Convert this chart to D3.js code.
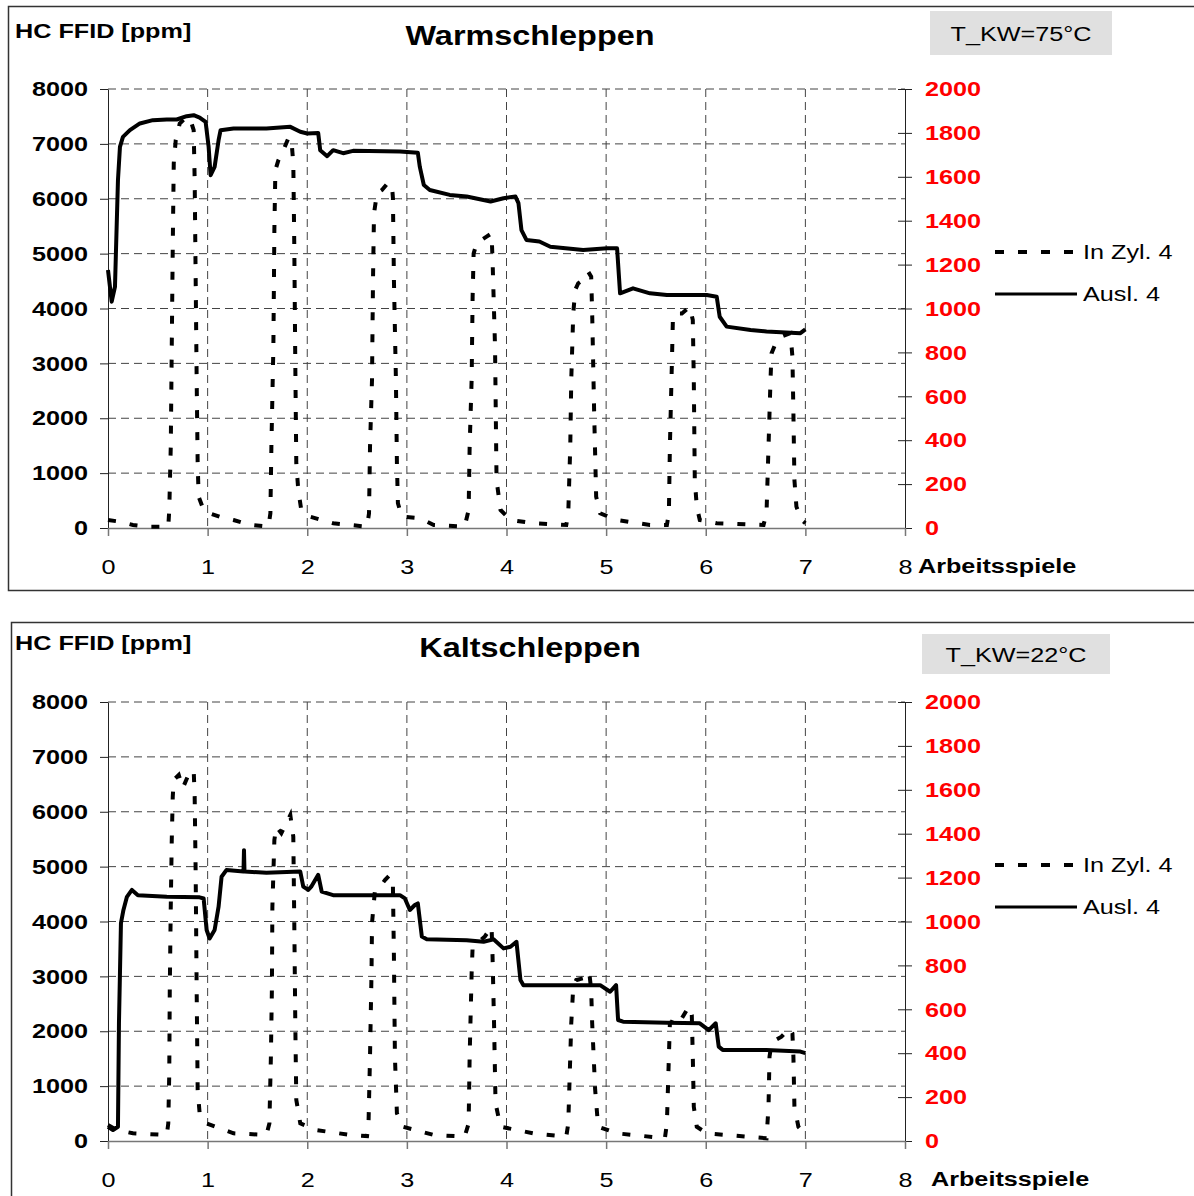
<!DOCTYPE html>
<html>
<head>
<meta charset="utf-8">
<script src="https://cdn.jsdelivr.net/npm/d3@7"></script>
<style>
  body { margin: 0; background: #fff; }
  svg text { font-family: "Liberation Sans", Arial, sans-serif; }
</style>
</head>
<body>
<svg id="chart" width="1194" height="1196"></svg>
<script>
// ---- data ----
const xTicks = [0, 1, 2, 3, 4, 5, 6, 7, 8];
const yTicksLeft = [0, 1000, 2000, 3000, 4000, 5000, 6000, 7000, 8000];
const yTicksRight = [0, 200, 400, 600, 800, 1000, 1200, 1400, 1600, 1800, 2000];
const seriesNames = ["In Zyl. 4", "Ausl. 4"];
const panelTitles = ["Warmschleppen", "Kaltschleppen"];
const panelTemps = ["T_KW=75°C", "T_KW=22°C"];

// [Arbeitsspiele, ppm]
const warmAusl = [[0,4700],[0.037,4124],[0.07,4397],[0.10,6340],[0.12,6946],[0.15,7128],[0.22,7250],[0.32,7372],[0.45,7432],[0.59,7444],[0.69,7444],[0.79,7505],[0.86,7523],[0.92,7480],[0.98,7400],[1.01,6946],[1.03,6430],[1.07,6580],[1.11,7067],[1.13,7250],[1.26,7280],[1.59,7280],[1.83,7310],[1.93,7220],[2.0,7190],[2.11,7200],[2.13,6885],[2.20,6776],[2.26,6885],[2.36,6830],[2.46,6873],[2.93,6860],[3.11,6840],[3.13,6580],[3.17,6250],[3.23,6160],[3.43,6070],[3.60,6040],[3.84,5950],[3.97,6010],[4.09,6040],[4.12,5920],[4.15,5430],[4.20,5250],[4.33,5220],[4.44,5125],[4.77,5065],[5.01,5097],[5.11,5097],[5.14,4277],[5.27,4368],[5.44,4277],[5.61,4245],[6.01,4245],[6.11,4215],[6.14,3850],[6.21,3670],[6.45,3610],[6.61,3580],[6.95,3550],[7.0,3620]];

const warmInZyl = [[0,146],[0.12,115],[0.25,55],[0.39,24],[0.605,24],[0.615,328],[0.63,1480],[0.64,3300],[0.65,5125],[0.66,6645],[0.68,7070],[0.72,7372],[0.77,7460],[0.82,7480],[0.86,7250],[0.87,6340],[0.88,4520],[0.89,2700],[0.90,1180],[0.91,570],[0.96,328],[1.02,268],[1.12,206],[1.26,146],[1.43,55],[1.61,24],[1.63,268],[1.64,1480],[1.66,3300],[1.67,5430],[1.68,6520],[1.71,6700],[1.76,6885],[1.81,7100],[1.84,7100],[1.86,6645],[1.87,5125],[1.88,3000],[1.89,1180],[1.91,690],[1.94,328],[2.03,206],[2.26,86],[2.60,24],[2.62,268],[2.63,1480],[2.65,2700],[2.66,4520],[2.67,5730],[2.70,6100],[2.75,6160],[2.81,6290],[2.85,6250],[2.86,6010],[2.87,4520],[2.89,2700],[2.90,1180],[2.91,450],[2.95,206],[3.13,177],[3.27,55],[3.58,24],[3.62,328],[3.63,1480],[3.65,2700],[3.66,4215],[3.67,5000],[3.70,5190],[3.75,5250],[3.80,5310],[3.85,5370],[3.86,4885],[3.885,3300],[3.90,875],[3.94,328],[4.04,146],[4.27,86],[4.60,55],[4.62,268],[4.64,1480],[4.65,2700],[4.67,3910],[4.69,4340],[4.72,4460],[4.77,4520],[4.82,4670],[4.85,4580],[4.86,3910],[4.88,2090],[4.90,570],[4.94,268],[5.11,146],[5.44,55],[5.61,55],[5.63,268],[5.64,1480],[5.66,3000],[5.67,3790],[5.69,3910],[5.76,3910],[5.84,4030],[5.87,3790],[5.88,2700],[5.89,875],[5.91,390],[5.94,146],[6.11,86],[6.58,55],[6.61,268],[6.63,1480],[6.64,2090],[6.65,2700],[6.66,3180],[6.70,3360],[6.76,3490],[6.85,3550],[6.87,3120],[6.88,2090],[6.89,875],[6.91,390],[6.96,146],[7.0,86]];

const kaltAusl = [[0,260],[0.05,200],[0.10,260],[0.11,2145],[0.13,3970],[0.155,4210],[0.19,4450],[0.24,4575],[0.30,4480],[0.59,4450],[0.92,4440],[0.96,4420],[0.99,3845],[1.02,3690],[1.07,3845],[1.11,4270],[1.14,4815],[1.19,4940],[1.36,4910],[1.365,5300],[1.37,4910],[1.59,4890],[1.93,4910],[1.96,4635],[2.01,4575],[2.04,4635],[2.11,4850],[2.145,4545],[2.26,4480],[2.93,4480],[2.98,4420],[3.03,4210],[3.08,4300],[3.11,4330],[3.15,3725],[3.20,3675],[3.60,3660],[3.77,3630],[3.87,3675],[3.97,3510],[4.04,3540],[4.10,3630],[4.14,2935],[4.17,2840],[4.60,2840],[4.94,2840],[5.04,2720],[5.10,2840],[5.12,2205],[5.17,2175],[5.61,2155],[5.94,2145],[6.03,2020],[6.10,2145],[6.13,1720],[6.17,1660],[6.61,1660],[6.95,1630],[7.0,1600]];

const kaltInZyl = [[0,290],[0.09,200],[0.25,140],[0.59,110],[0.605,320],[0.615,1235],[0.62,2750],[0.63,4270],[0.64,5485],[0.65,6275],[0.66,6580],[0.71,6670],[0.75,6430],[0.80,6640],[0.86,6760],[0.87,6275],[0.88,4880],[0.89,2750],[0.90,930],[0.92,505],[0.99,320],[1.26,140],[1.59,110],[1.62,320],[1.635,1535],[1.645,2750],[1.65,4270],[1.67,5485],[1.69,5730],[1.74,5610],[1.79,5790],[1.83,5940],[1.86,5545],[1.87,3970],[1.88,2145],[1.89,750],[1.93,320],[2.09,200],[2.43,110],[2.60,90],[2.615,320],[2.63,1535],[2.645,3055],[2.65,3970],[2.68,4575],[2.73,4635],[2.78,4755],[2.83,4850],[2.86,4635],[2.87,3360],[2.88,1535],[2.90,505],[2.96,260],[3.27,110],[3.58,80],[3.62,320],[3.63,1535],[3.65,3055],[3.66,3540],[3.70,3600],[3.78,3720],[3.85,3905],[3.86,3360],[3.875,2145],[3.89,690],[3.94,260],[4.27,140],[4.60,80],[4.62,320],[4.64,1535],[4.65,2145],[4.67,2810],[4.70,2935],[4.77,2965],[4.83,3085],[4.85,2750],[4.86,2145],[4.89,930],[4.92,260],[5.11,140],[5.59,50],[5.61,320],[5.63,1535],[5.64,2145],[5.66,2175],[5.69,2295],[5.76,2235],[5.83,2450],[5.86,2295],[5.87,1535],[5.88,625],[5.91,260],[6.01,140],[6.61,50],[6.63,625],[6.64,1535],[6.66,1780],[6.70,1840],[6.76,1900],[6.84,2055],[6.87,1960],[6.88,1535],[6.89,625],[6.93,260],[7.0,110]];

const svg = d3.select("#chart");
const SX = 1.2; // the original lettering is drawn a bit wider than normal

// widen text horizontally, keeping its anchor point in place
const stretch = (sel) => sel.each(function () {
    const t = d3.select(this);
    const x0 = parseFloat(t.attr("x")) || 0;
    t.attr("transform", `translate(${x0 * (1 - SX)},0) scale(${SX},1)`);
});

const drawPanel = (p) => {
    const g = svg.append("g");
    const left = 108, right = 905, plotH = 439;
    const base = p.base;   // y of the zero line

    // outer frame (right side runs off the picture)
    g.append("rect")
        .attr("x", p.frame[0] + 0.5).attr("y", p.frame[1] + 0.5)
        .attr("width", 1300).attr("height", p.frame[2])
        .attr("fill", "none").attr("stroke", "#333").attr("stroke-width", 1.5);

    const x = d3.scaleLinear().domain([0, 8]).range([left, right]);
    const y = d3.scaleLinear().domain([0, 8000]).range([base, base - plotH]);
    const yR = d3.scaleLinear().domain([0, 2000]).range([base, base - plotH]);

    // grid
    g.append("g").selectAll("line")
        .data(yTicksLeft.filter(d => d > 0))
        .join("line")
        .attr("x1", left).attr("x2", right)
        .attr("y1", d => y(d)).attr("y2", d => y(d))
        .attr("stroke", "#444").attr("stroke-width", 1)
        .attr("stroke-dasharray", "8,5");
    g.append("g").selectAll("line")
        .data(xTicks.filter(d => d > 0 && d < 8))
        .join("line")
        .attr("x1", d => x(d)).attr("x2", d => x(d))
        .attr("y1", y(8000)).attr("y2", y(0))
        .attr("stroke", "#444").attr("stroke-width", 1)
        .attr("stroke-dasharray", "8,5");

    // left axis
    const yAxis = g.append("g")
        .attr("transform", `translate(${left},0)`)
        .call(d3.axisLeft(y).tickValues(yTicksLeft).tickFormat(d3.format("d"))
            .tickSize(8).tickPadding(12).tickSizeOuter(0));
    yAxis.selectAll("path, line").attr("stroke", "#222");
    yAxis.selectAll("text")
        .style("font-size", "21px").style("font-weight", "bold").attr("fill", "#000")
        .call(stretch);

    // right axis (red labels, crossing ticks)
    const yAxisR = g.append("g")
        .attr("transform", `translate(${right},0)`)
        .call(d3.axisRight(yR).tickValues(yTicksRight).tickFormat(d3.format("d"))
            .tickSize(7).tickPadding(13).tickSizeOuter(0));
    yAxisR.select("path").attr("stroke", "#222");
    yAxisR.selectAll("line").attr("x1", -7).attr("x2", 7).attr("stroke", "#222");
    yAxisR.selectAll("text")
        .style("font-size", "21px").style("font-weight", "bold").attr("fill", "#ff0000")
        .call(stretch);

    // bottom axis
    const xAxis = g.append("g")
        .attr("transform", `translate(0,${base})`)
        .call(d3.axisBottom(x).tickValues(xTicks).tickSize(8).tickPadding(23).tickSizeOuter(0));
    xAxis.selectAll("path, line").attr("stroke", "#777").attr("stroke-width", 1.5);
    xAxis.selectAll("text")
        .style("font-size", "21px").attr("fill", "#000")
        .call(stretch);

    g.append("text")
        .attr("x", p.xLabelX).attr("y", base + 45)
        .style("font-size", "21px").style("font-weight", "bold")
        .text("Arbeitsspiele")
        .call(stretch);

    // titles
    g.append("text")
        .attr("x", 15).attr("y", p.textTop + 32)
        .style("font-size", "21px").style("font-weight", "bold")
        .text("HC FFID [ppm]")
        .call(stretch);
    g.append("text")
        .attr("x", 530).attr("y", p.textTop + 39)
        .attr("text-anchor", "middle")
        .style("font-size", "27px").style("font-weight", "bold")
        .text(p.title)
        .call(stretch);

    g.append("rect")
        .attr("x", p.box[0]).attr("y", p.box[1])
        .attr("width", p.box[2]).attr("height", p.box[3])
        .attr("fill", "#e0e0e0");
    g.append("text")
        .attr("x", p.box[0] + p.box[2] / 2).attr("y", p.box[1] + p.box[3] / 2 + 8)
        .attr("text-anchor", "middle")
        .style("font-size", "21px")
        .text(p.temp)
        .call(stretch);

    // series
    const line = d3.line().x(d => x(d[0])).y(d => y(d[1]));
    g.append("path")
        .datum(p.inZyl)
        .attr("d", line)
        .attr("fill", "none").attr("stroke", "#000").attr("stroke-width", 4)
        .attr("stroke-dasharray", "8,14");
    g.append("path")
        .datum(p.ausl)
        .attr("d", line)
        .attr("fill", "none").attr("stroke", "#000").attr("stroke-width", 4)
        .attr("stroke-linejoin", "round");

    // legend
    const leg = g.append("g").attr("transform", `translate(995,${p.legY})`);
    seriesNames.forEach((name, i) => {
        leg.append("line")
            .attr("x1", 0).attr("x2", i === 0 ? 80 : 82)
            .attr("y1", i * 42).attr("y2", i * 42)
            .attr("stroke", "#000").attr("stroke-width", i === 0 ? 4 : 3)
            .attr("stroke-dasharray", i === 0 ? "9,14" : null);
        leg.append("text")
            .attr("x", 88).attr("y", i * 42 + 7)
            .style("font-size", "21px")
            .text(name)
            .call(stretch);
    });
};

drawPanel({ frame: [8, 6, 584], textTop: 6, base: 528, title: panelTitles[0], temp: panelTemps[0],
    box: [930, 11, 182, 44], legY: 252, xLabelX: 918, inZyl: warmInZyl, ausl: warmAusl });
drawPanel({ frame: [11, 622, 640], textTop: 618, base: 1141, title: panelTitles[1], temp: panelTemps[1],
    box: [922, 634, 188, 40], legY: 865, xLabelX: 931, inZyl: kaltInZyl, ausl: kaltAusl });
</script>
</body>
</html>
